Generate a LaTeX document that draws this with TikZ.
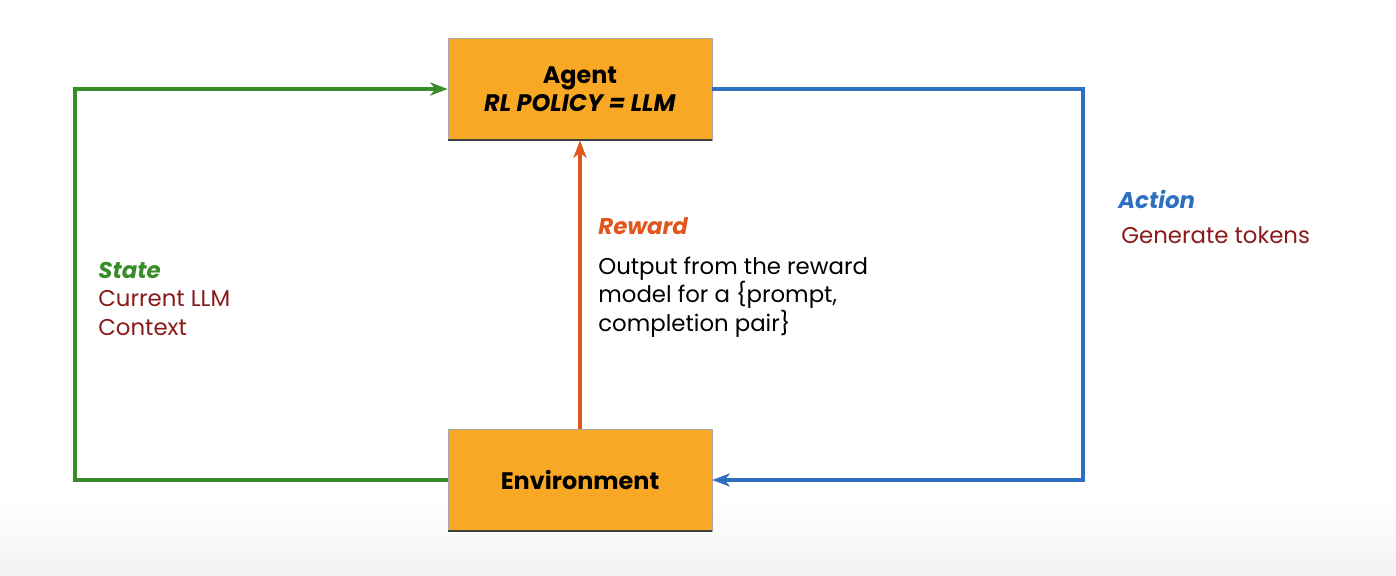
\documentclass[tikz,border=0pt]{standalone}
\usepackage{fontspec}
\setmainfont{Poppins}
\usetikzlibrary{arrows.meta, positioning}
\definecolor{boxOrange}{HTML}{F9A826}
\definecolor{stateGreen}{HTML}{3A8C2A}
\definecolor{actionBlue}{HTML}{2E6FC2}
\definecolor{rewardRed}{HTML}{E0561E}
\definecolor{bodyRed}{HTML}{8A1A1A}
\definecolor{bgGray}{HTML}{F2F2F2}

\tikzset{
    block/.style={draw=gray!70, fill=boxOrange, minimum width=5.28cm, minimum height=2.04cm,
                  font=\fontsize{13.6}{16}\selectfont\bfseries, align=center, inner sep=0pt},
    label/.style={anchor=base west, inner sep=0pt, font=\fontsize{13}{16}\selectfont\bfseries\itshape},
    body/.style={anchor=base west, inner sep=0pt, align=left, font=\fontsize{13}{16}\selectfont},
    link/.style={line width=2pt, -{Stealth[length=10pt, width=7.5pt, inset=3pt]}}
}

\begin{document}
\begin{tikzpicture}[x=0.02cm, y=-0.02cm]
    % page and the grey fade at the bottom
    \useasboundingbox (0,0) rectangle (1396,575);
    \shade[top color=white, bottom color=bgGray] (0,500) rectangle (1396,575);

    % the two boxes
    \node[block] (agent) at (580,89) {Agent\\ \textit{RL POLICY = LLM}};
    \node[block] (env) at (580,480) {Environment};
    \draw[black!75, line width=1.2pt] (agent.south west) -- (agent.south east);
    \draw[black!75, line width=1.2pt] (env.south west) -- (env.south east);

    % corners of the loop
    \coordinate (SL) at (75,480);
    \coordinate (TL) at (75,89);
    \coordinate (TR) at (1083,89);
    \coordinate (BR) at (1083,480);

    % state
    \draw[link, stateGreen] (env.west) -- (SL) -- (TL) -- (agent.west);
    \node[label, stateGreen] (stateT) at (98,278) {State};
    \node[body, bodyRed] (stateB) at (98,335) {Current LLM\\Context};

    % action
    \draw[link, actionBlue] (agent.east) -- (TR) -- (BR) -- (env.east);
    \node[label, actionBlue] (actT) at (1118,208) {Action};
    \node[body, bodyRed] (actB) at (1121,243) {Generate tokens};

    % reward
    \draw[link, rewardRed] (env.north) -- (agent.south);
    \node[label, rewardRed] (rewT) at (598,234) {Reward};
    \node[body] (rewB) at (598,331) {Output from the reward\\model for a \{prompt,\\completion pair\}};
\end{tikzpicture}
\end{document}
